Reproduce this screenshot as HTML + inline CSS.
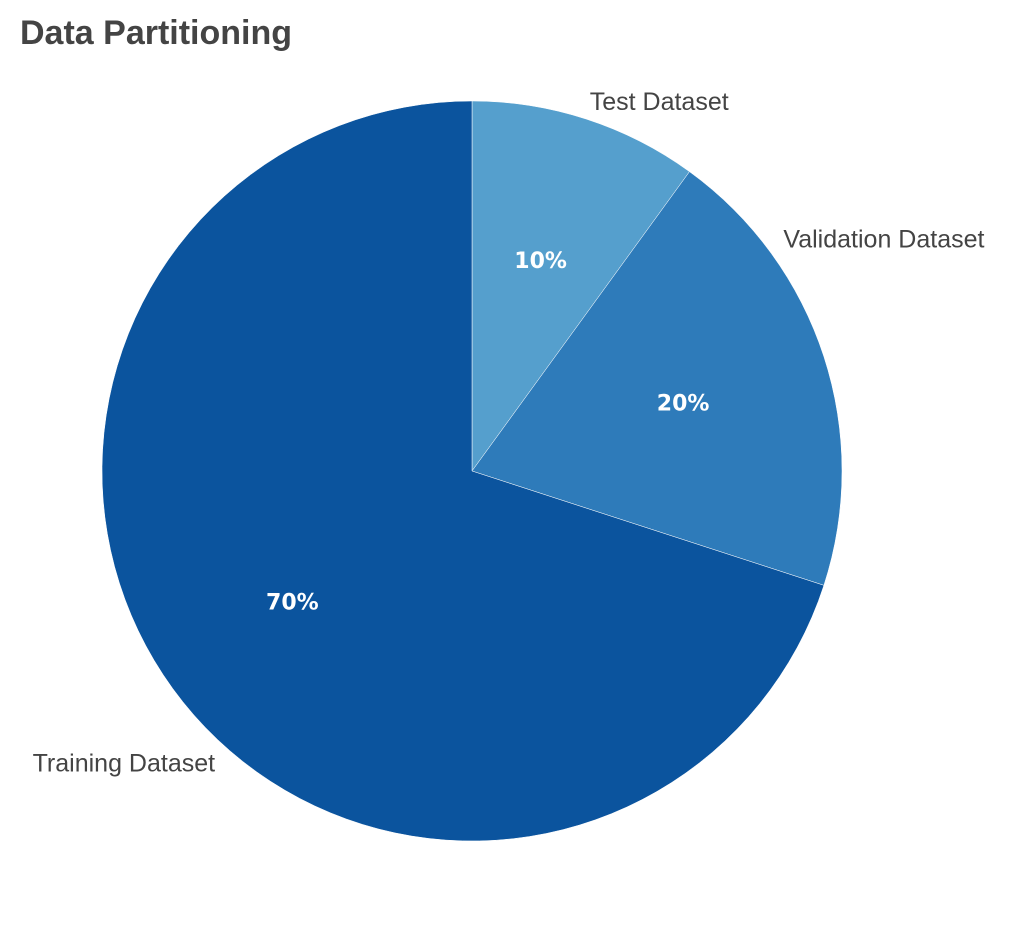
<!DOCTYPE html>
<html><head><meta charset="utf-8"><style>
html,body{margin:0;padding:0;background:#fff;}
svg{display:block;}
</style></head><body>
<svg id="chart" width="1011" height="944">
<text x="20" y="44" font-family="Liberation Sans, sans-serif" font-weight="bold" font-size="34" fill="#444">Data Partitioning</text>
<g id="slices"></g>
<g id="labels"></g>
</svg>
<script>
const categories = ["Test Dataset", "Validation Dataset", "Training Dataset"];
const values = [10, 20, 70];
const colors = ["#559fcd", "#2e7bba", "#0b549e"];
const NS = "http://www.w3.org/2000/svg";
const cx = 472, cy = 471, r = 370;
const total = values.reduce((a, b) => a + b, 0);
const labelFrac = [0.49, 0.24, 0.45];
const sg = document.getElementById('slices'), lg = document.getElementById('labels');
function pt(a, rad) { return [cx + rad * Math.sin(a), cy - rad * Math.cos(a)]; }
let start = 0;
values.forEach((v, i) => {
  const span = v / total * 2 * Math.PI, end = start + span;
  const p1 = pt(start, r), p2 = pt(end, r);
  const path = document.createElementNS(NS, 'path');
  path.setAttribute('d', `M${cx},${cy} L${p1[0]},${p1[1]} A${r},${r} 0 ${span > Math.PI ? 1 : 0} 1 ${p2[0]},${p2[1]} Z`);
  path.setAttribute('fill', colors[i]);
  path.setAttribute('stroke', '#fff');
  path.setAttribute('stroke-width', '0.5');
  
  
  sg.appendChild(path);
  const mid = start + span / 2;
  const pp = pt(mid, r * 0.6);
  const t = document.createElementNS(NS, 'text');
  t.setAttribute('x', pp[0]); t.setAttribute('y', pp[1] + 8);
  t.setAttribute('text-anchor', 'middle');
  t.setAttribute('font-family', 'DejaVu Sans, sans-serif');
  t.setAttribute('font-weight', 'bold');
  t.setAttribute('font-size', '22');
  t.setAttribute('fill', '#fff');
  t.textContent = Math.round(v / total * 100) + '%';
  
  
  lg.appendChild(t);
  const la = start + span * labelFrac[i];
  const lp = pt(la, r * 1.05);
  const left = Math.sin(la) < 0;
  const n = document.createElementNS(NS, 'text');
  n.setAttribute('x', lp[0]); n.setAttribute('y', lp[1] + 9);
  n.setAttribute('text-anchor', left ? 'end' : 'start');
  n.setAttribute('font-family', 'Liberation Sans, sans-serif');
  n.setAttribute('font-size', '25');
  n.setAttribute('fill', '#444');
  n.textContent = categories[i];
  
  
  lg.appendChild(n);
  start = end;
});
</script>
</body></html>
